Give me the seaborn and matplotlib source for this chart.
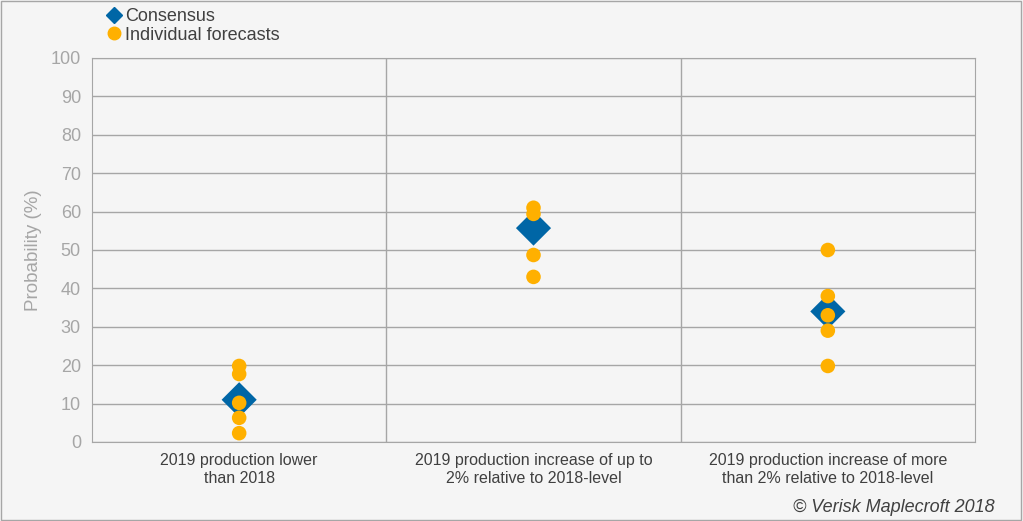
import matplotlib
matplotlib.use("Agg")
import matplotlib.pyplot as plt
import seaborn as sns
import pandas as pd
from matplotlib.lines import Line2D

plt.rcParams["font.family"] = "Liberation Sans"

categories = ["2019 production lower\nthan 2018",
              "2019 production increase of up to\n2% relative to 2018-level",
              "2019 production increase of more\nthan 2% relative to 2018-level"]
consensus = [11, 55.7, 34]
forecasts = [[19.8, 17.7, 10.2, 6.3, 2.3],
             [61, 59.4, 48.7, 43],
             [50, 38, 33, 29, 19.8]]
yticks = list(range(0, 101, 10))

bg = "#F5F5F5"
fig = plt.figure(figsize=(10.23, 5.21), dpi=100, facecolor=bg)
fig.patches.append(plt.Rectangle((0.0005, 0.001), 0.998, 0.997, transform=fig.transFigure,
                                  fill=False, edgecolor="#A6A6A6", lw=1))
ax = fig.add_axes([92/1023, 1-442/521, (975-92)/1023, (442-58)/521])
ax.set_facecolor(bg)

cdf = pd.DataFrame({"x": range(3), "y": consensus})
fdf = pd.DataFrame([(i, v) for i, vs in enumerate(forecasts) for v in vs], columns=["x", "y"])
sns.scatterplot(data=cdf, x="x", y="y", marker="D", s=320, color="#0066A6", edgecolor="none",
                ax=ax, zorder=3, legend=False)
sns.scatterplot(data=fdf, x="x", y="y", marker="o", s=110, color="#FFB000", edgecolor="none",
                ax=ax, zorder=4, legend=False)

ax.set_xlim(-0.5, 2.5)
ax.set_ylim(0, 100)
ax.set_yticks(yticks)
ax.yaxis.grid(True, color="#A6A6A6", lw=1)
ax.set_axisbelow(True)
for xv in [0.5, 1.5]:
    ax.axvline(xv, color="#A6A6A6", lw=1, zorder=1)
ax.set_xticks(range(3))
ax.set_xticklabels(categories, fontsize=11.5, color="#404040")
ax.tick_params(axis="y", labelsize=13, labelcolor="#A6A6A6", length=0, pad=8)
ax.tick_params(axis="x", length=0, pad=8)
for s in ax.spines.values():
    s.set_color("#A6A6A6")
ax.set_xlabel("")
ax.set_ylabel("Probability (%)", fontsize=13.5, color="#A6A6A6", labelpad=6)

handles = [Line2D([], [], marker="D", ls="", color="#0066A6", markersize=8),
           Line2D([], [], marker="o", ls="", color="#FFB000", markersize=9)]
leg = fig.legend(handles, ["Consensus", "Individual forecasts"], loc="upper left",
                 bbox_to_anchor=(105/1023, 1-8/521), frameon=False, fontsize=13,
                 handletextpad=0.1, borderaxespad=0, labelspacing=0.1, borderpad=0,
                 handlelength=1.0)
for t in leg.get_texts():
    t.set_color("#404040")

fig.text(995/1023, 1-507/521, "© Verisk Maplecroft 2018", ha="right", va="center",
         fontsize=13, style="italic", color="#404040")
fig.savefig("out.png", dpi=100, facecolor=bg)
